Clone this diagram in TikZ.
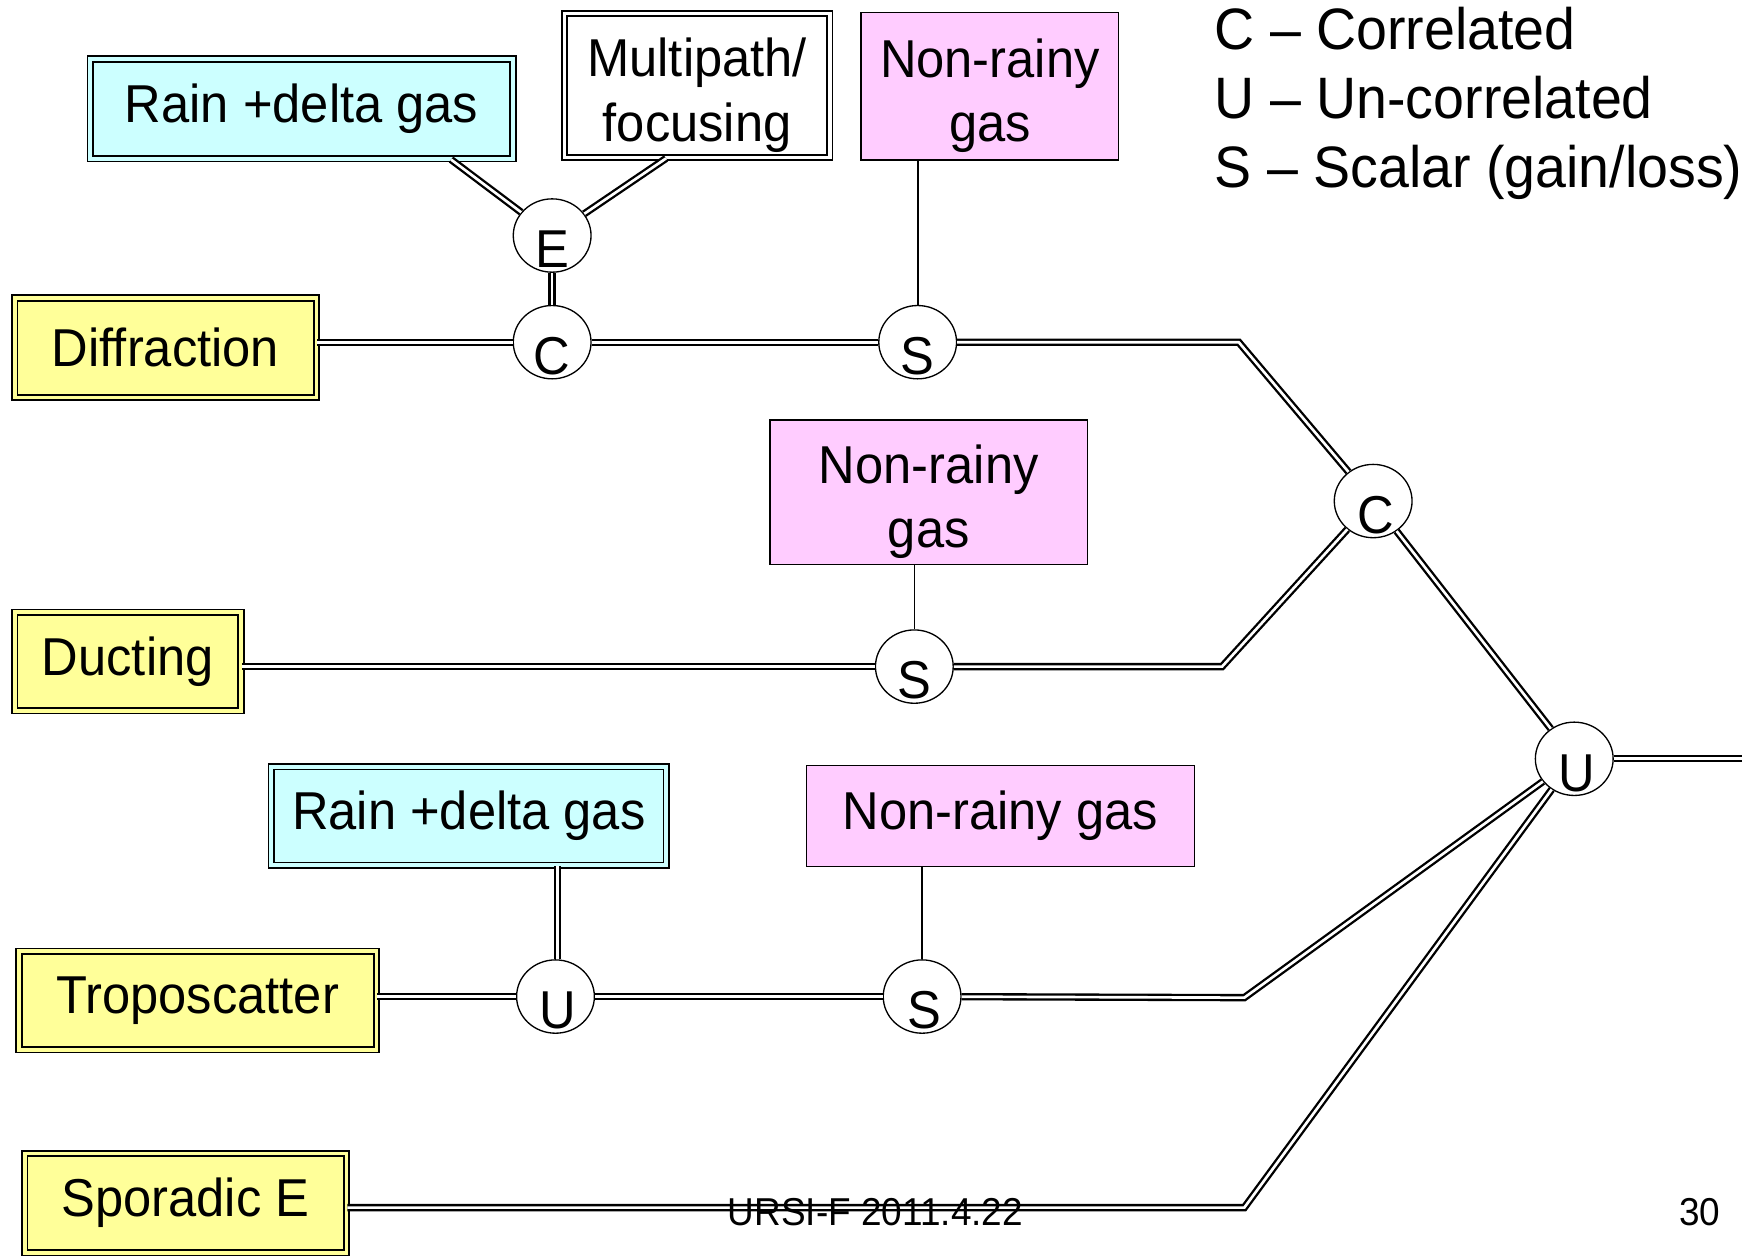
\documentclass[tikz,border=0pt]{standalone}
\usepackage{fontspec}
\setmainfont{Liberation Sans}[FakeStretch=0.95]
\usetikzlibrary{shapes.geometric,calc}
\definecolor{boxyellow}{HTML}{FFFF99}
\definecolor{boxcyan}{HTML}{CCFFFF}
\definecolor{boxpink}{HTML}{FFCCFF}
\newcommand\topstrut{\rule{0pt}{26pt}}
\begin{document}
\begin{tikzpicture}[x=0.5pt,y=-0.5pt,
  txt/.style={font=\fontsize{24pt}{29pt}\selectfont},
  dblbox/.style={txt, draw, line width=0.8pt, double distance=1.7pt, inner sep=0pt, align=center},
  ybox/.style={dblbox, fill=boxyellow, double=boxyellow},
  cbox/.style={dblbox, fill=boxcyan, double=boxcyan},
  wbox/.style={dblbox, fill=white, double=white},
  pbox/.style={txt, draw, line width=0.6pt, fill=boxpink, inner sep=0pt, align=center},
  junc/.style={ellipse, draw, fill=white, line width=0.6pt, minimum width=35pt, minimum height=33pt, inner sep=0pt},
  jlet/.style={txt, anchor=base, inner sep=0pt},
  dbl/.style={draw, line width=1.05pt, double=white, double distance=1.2pt},
  sgl/.style={draw, line width=0.75pt},
  legend/.style={font=\fontsize{26.3pt}{31pt}\selectfont, anchor=base west, inner sep=0pt},
  foot/.style={font=\fontsize{17.5pt}{21pt}\selectfont, inner sep=0pt}
]
\useasboundingbox (0,0) rectangle (1568,1130);
\clip (0,0) rectangle (1568,1130);

% boxes
\node[cbox, minimum width=190.3pt, minimum height=44.8pt] (rain1) at (271.5,98) {Rain +delta gas};
\node[wbox, minimum width=119.3pt, minimum height=64.8pt] (multipath) at (627.5,77) {\topstrut Multipath/\\focusing};
\node[pbox, minimum width=116pt, minimum height=66.5pt] (nonrainy1) at (891,77.5) {\topstrut Non-rainy\\gas};
\node[ybox, minimum width=135.8pt, minimum height=44.8pt] (diffraction) at (149,313) {Diffraction};
\node[pbox, minimum width=143pt, minimum height=65pt] (nonrainy2) at (836,443) {\topstrut Non-rainy\\gas};
\node[ybox, minimum width=101.8pt, minimum height=44.3pt] (ducting) at (115,595.5) {Ducting};
\node[cbox, minimum width=177.8pt, minimum height=44.3pt] (rain2) at (422,734.5) {Rain +delta gas};
\node[pbox, minimum width=174.5pt, minimum height=45.5pt] (nonrainy3) at (900.5,734.5) {Non-rainy gas};
\node[ybox, minimum width=160.8pt, minimum height=44.3pt] (tropo) at (178,900.5) {Troposcatter};
\node[ybox, minimum width=144.8pt, minimum height=44.8pt] (sporadic) at (167,1083) {Sporadic E};

% junctions
\node[junc] (E) at (497,212) {};
\node[junc] (C1) at (497,308) {};
\node[junc] (S1) at (826,308) {};
\node[junc] (C2) at (1236,451) {};
\node[junc] (S2) at (823,600) {};
\node[junc] (U) at (1417,683) {};
\node[junc] (U1) at (500,897) {};
\node[junc] (S3) at (830,897) {};

% bend points
\coordinate (k1) at (1115,308);
\coordinate (k2) at (1100,600);
\coordinate (k3) at (1120,898);
\coordinate (k4) at (1120,1087);
\coordinate (out) at (1580,683);

% connectors
\draw[dbl] ($(rain1.south)+(134.5,0)$) -- (E);
\draw[dbl] ($(multipath.south)+(-28,0)$) -- (E);
\draw[dbl] (E) -- (C1);
\draw[dbl] (diffraction.east |- C1) -- (C1);
\draw[dbl] (C1) -- (S1);
\draw[sgl] (nonrainy1.south -| S1) -- (S1);
\draw[dbl] (S1) -- (k1) -- (C2);
\draw[dbl] (ducting.east |- S2) -- (S2);
\draw[sgl] (nonrainy2.south -| S2) -- (S2);
\draw[dbl] (S2) -- (k2) -- (C2);
\draw[dbl] (C2) -- (U);
\draw[dbl] (U) -- (out);
\draw[dbl] (tropo.east |- U1) -- (U1);
\draw[dbl] ($(rain2.south -| U1)+(2,0)$) -- ($(U1.north)+(2,0)$);
\draw[dbl] (U1) -- (S3);
\draw[sgl] (nonrainy3.south -| S3) -- (S3);
\draw[dbl] (S3) -- (k3) -- (U);
\draw[dbl] (sporadic.east |- k4) -- (k4) -- (U);

% junction letters
\node[jlet] (Et) at (497,241) {E};
\node[jlet] (C1t) at (497,337) {C};
\node[jlet] (S1t) at (826,337) {S};
\node[jlet] (C2t) at (1238,480) {C};
\node[jlet] (S2t) at (823,629) {S};
\node[jlet] (Ut) at (1419,712) {U};
\node[jlet] (U1t) at (502,926) {U};
\node[jlet] (S3t) at (832,926) {S};

% legend
\node[legend] (legC) at (1093,45) {C – Correlated};
\node[legend] (legU) at (1093,107) {U – Un-correlated};
\node[legend] (legS) at (1093,169) {S – Scalar (gain/loss)};

% footer
\node[foot, anchor=base] (footer) at (788,1103) {URSI-F 2011.4.22};
\node[foot, anchor=base east] (page) at (1549,1103) {30};
\end{tikzpicture}
\end{document}
